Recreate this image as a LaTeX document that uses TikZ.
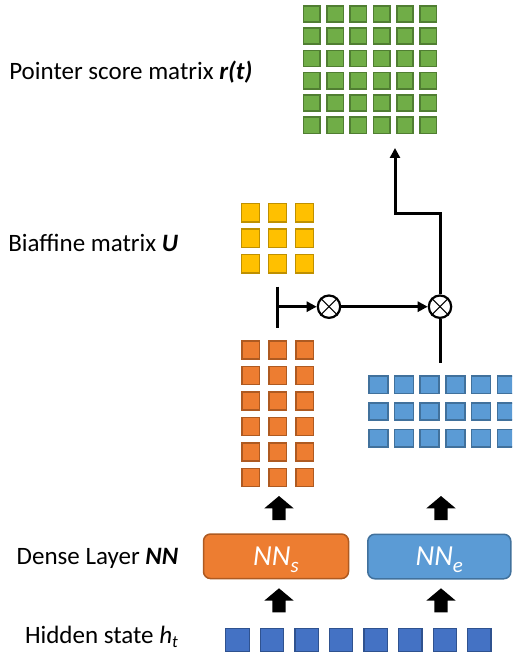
\documentclass[tikz,border=0pt]{standalone}
\usepackage{fontspec}
\setmainfont{Carlito}
\usetikzlibrary{arrows.meta,fit,calc}

\definecolor{grnF}{HTML}{70AD47}\definecolor{grnD}{HTML}{507E32}
\definecolor{ylwF}{HTML}{FFC000}\definecolor{ylwD}{HTML}{BF9000}
\definecolor{orgF}{HTML}{ED7D31}\definecolor{orgD}{HTML}{AE5A21}
\definecolor{lbF}{HTML}{5B9BD5}\definecolor{lbD}{HTML}{41719C}
\definecolor{dbF}{HTML}{4472C4}\definecolor{dbD}{HTML}{2F528F}

\tikzset{
  cell/.style={draw, line width=1.6pt, inner sep=0pt, outer sep=0pt},
  gcell/.style={cell, fill=grnF, draw=grnD, minimum width=16.4pt, minimum height=16.1pt},
  ycell/.style={cell, fill=ylwF, draw=ylwD, minimum width=17.9pt, minimum height=18.4pt},
  ocell/.style={cell, fill=orgF, draw=orgD, minimum width=17.9pt, minimum height=17.9pt},
  bcell/.style={cell, fill=lbF, draw=lbD, minimum width=18.9pt, minimum height=17.4pt},
  hcell/.style={cell, line width=1.2pt, fill=dbF, draw=dbD, minimum width=23.3pt, minimum height=22.3pt},
  grp/.style={inner sep=0pt, outer sep=0pt},
  lbl/.style={inner sep=0pt, outer sep=0pt, font=\fontsize{25}{29}\selectfont},
  dense/.style={draw, line width=1.5pt, rounded corners=7pt, inner sep=0pt,
    minimum height=44.5pt, text=white, font=\fontsize{29}{31}\selectfont\itshape},
  conn/.style={line width=3pt, line join=miter},
  tip/.style={-{Triangle[length=10pt,width=10pt]}},
  otimes/.style={circle, draw, line width=2.2pt, fill=white, minimum size=22.4pt, inner sep=0pt},
  blockup/.pic={\fill (0,0) -- (14.65,12.3) -- (6.65,12.3) -- (6.65,24) -- (-6.65,24)
      -- (-6.65,12.3) -- (-14.65,12.3) -- cycle;}
}

\begin{document}
\begin{tikzpicture}[x=1pt, y=-1pt]
\useasboundingbox (0,0) rectangle (512,655);
\clip (0,0) rectangle (512,655);

% pointer score matrix r(t): 6 x 6
\foreach \r in {0,...,5}
  \foreach \c in {0,...,5}
    \node[gcell] (g\r\c) at ({311.8+23.3*\c},{13.8+22.3*\r}) {};
\node[grp, fit=(g00)(g55)] (R) {};

% biaffine matrix U: 3 x 3
\foreach \r in {0,...,2}
  \foreach \c in {0,...,2}
    \node[ycell] (y\r\c) at ({250.5+27*\c},{212.7+25.5*\r}) {};
\node[grp, fit=(y00)(y22)] (U) {};

% start representation (output of NN_s): 6 x 3
\foreach \r in {0,...,5}
  \foreach \c in {0,...,2}
    \node[ocell] (o\r\c) at ({250.7+27*\c},{350+25.5*\r}) {};
\node[grp, fit=(o00)(o52)] (S) {};

% end representation (output of NN_e): 3 x 6
\foreach \r in {0,...,2}
  \foreach \c in {0,...,5}
    \node[bcell] (b\r\c) at ({378.3+25.7*\c},{384.8+26.6*\r}) {};
\node[grp, fit=(b00)(b25)] (E) {};

% hidden states h_t
\foreach \c in {0,...,7}
  \node[hcell] (h\c) at ({237.5+34.55*\c},640) {};

% dense layers
\node[dense, fill=orgF, draw=orgD, minimum width=145pt] (NNs) at (276,556.3)
  {NN\smash{\raisebox{-7pt}{\fontsize{21}{21}\selectfont s}}};
\node[dense, fill=lbF, draw=lbD, minimum width=143pt] (NNe) at (439.3,556.5)
  {NN\smash{\raisebox{-7pt}{\fontsize{21}{21}\selectfont e}}};

% block arrows
\pic at (279,496) {blockup};
\pic at (441,496) {blockup};
\pic at (279,588.3) {blockup};
\pic at (441,588.3) {blockup};

% products
\node[otimes] (ox1) at (329,306.7) {};
\node[otimes] (ox2) at (440,306.7) {};
\foreach \n in {ox1,ox2}{
  \draw[line width=1.1pt] (\n.north west) -- (\n.south east);
  \draw[line width=1.1pt] (\n.north east) -- (\n.south west);
}

% connectors
\coordinate (barT) at (277.7,286.7);
\coordinate (barB) at (277.7,328.3);
\coordinate (bar) at (277.7,306.7);
\coordinate (etop) at (440,363.3);
\coordinate (kink) at (395,213.3);
\coordinate (rtip) at (395,148);

\draw[conn] (barT) -- (barB);
\draw[conn, tip] (bar) -- (ox1);
\draw[conn, tip] (ox1) -- (ox2);
\draw[conn] (ox2) -- (etop);
\draw[conn, tip] (ox2.north) |- (kink) -- (rtip);

% row labels
\node[lbl, anchor=base west] (lr) at (9.3,80) {Pointer score matrix \textbf{\textit{r(t)}}};
\node[lbl, anchor=base west] (lu) at (8.3,251.7) {Biaffine matrix \textbf{\textit{U}}};
\node[lbl, anchor=base west] (ln) at (16.7,564.3) {Dense Layer \textbf{\textit{NN}}};
\node[lbl, anchor=base west] (lh) at (25,643.3)
  {Hidden state \textit{h}\raisebox{-4pt}{\fontsize{17}{17}\selectfont\itshape t}};
\end{tikzpicture}
\end{document}
